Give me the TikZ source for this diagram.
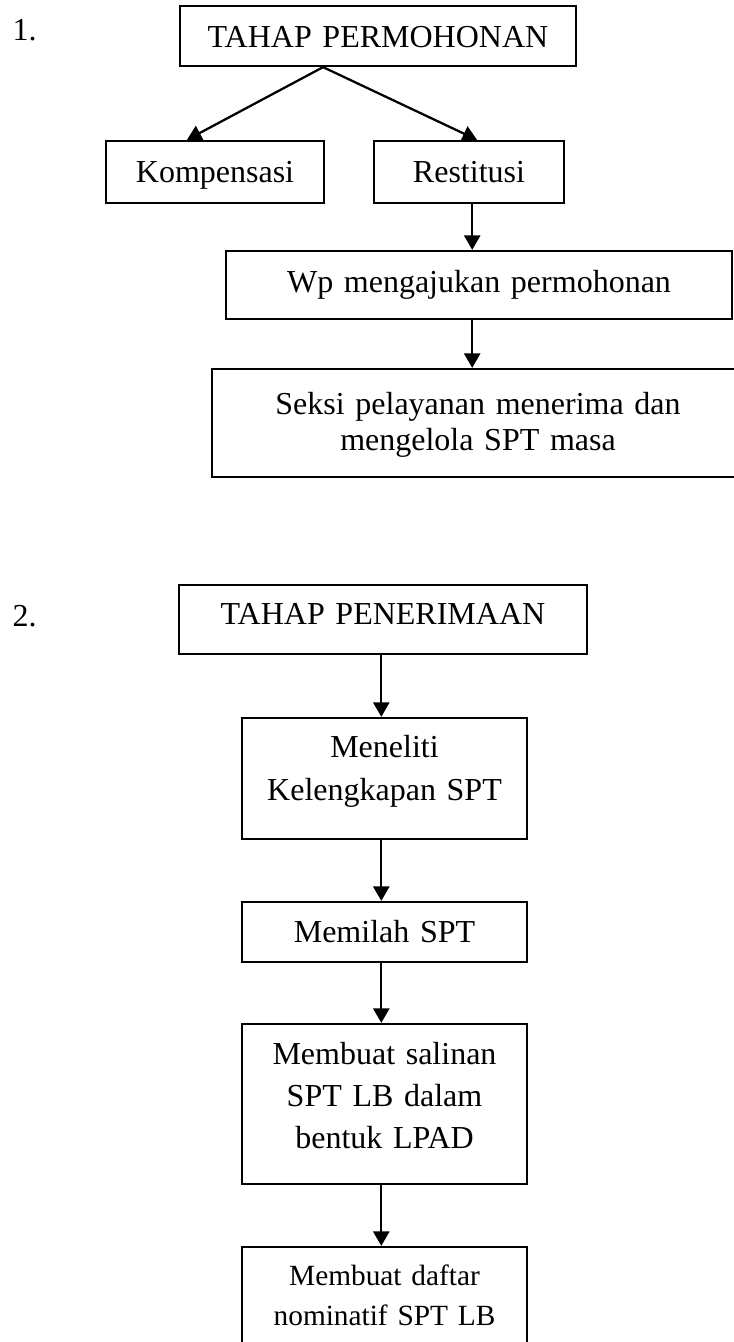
\documentclass[tikz,border=0pt]{standalone}
\usepackage{fontspec}
\setmainfont{Liberation Serif}
\usetikzlibrary{arrows.meta}

\begin{document}
\begin{tikzpicture}[
  x=0.375pt, y=-0.375pt,
  font=\fontsize{12pt}{13.8pt}\selectfont,
  box/.style={draw, line width=0.85pt, inner sep=0pt, align=center, text height=15.4pt},
  loose/.style={font=\fontsize{12pt}{15.9pt}\selectfont, text height=15pt},
  arrow/.style={-{Triangle[width=6pt, length=5.4pt]}, line width=0.85pt}
]
\clip (0,0) rectangle (734,1342);

% 1. tahap permohonan
\node[anchor=base west, inner sep=0pt] (num1) at (12,40) {1.};
\node[box, text width=148.5pt, text depth=7.1pt] (perm) at (378,36) {TAHAP PERMOHONAN};
\node[box, text width=81.75pt, text depth=7.9pt] (komp) at (215,172) {Kompensasi};
\node[box, text width=71.25pt, text depth=7.9pt] (rest) at (469,172) {Restitusi};
\node[box, text width=189.75pt, text depth=10.1pt] (wp) at (479,285) {Wp mengajukan permohonan};
\node[box, text width=199.5pt, text height=16.9pt, text depth=23.6pt] (seksi) at (478,423) {Seksi pelayanan menerima dan\\mengelola SPT masa};

\coordinate (split) at ([xshift=-20.6pt]perm.south);
\draw[arrow] (split) -- ([xshift=-10.5pt]komp.north);
\draw[arrow] (split) -- ([xshift=3pt]rest.north);
\draw[arrow] ([xshift=1.2pt]rest.south) -- ([xshift=1.2pt]rest.south |- wp.north);
\draw[arrow] ([xshift=1.2pt]rest.south |- wp.south) -- ([xshift=1.2pt]rest.south |- seksi.north);

% 2. tahap penerimaan
\node[anchor=base west, inner sep=0pt] (num2) at (12,626) {2.};
\node[box, loose, text width=153pt, text depth=10.9pt] (pener) at (383,619.5) {TAHAP PENERIMAAN};
\node[box, loose, text width=106.9pt, text depth=30.4pt] (teliti) at (384.5,778.5) {Meneliti\\Kelengkapan SPT};
\node[box, loose, text width=106.9pt, text depth=7.5pt] (pilah) at (384.5,932) {Memilah SPT};
\node[box, loose, text width=106.9pt, text depth=45pt] (salin) at (384.5,1104) {Membuat salinan\\SPT LB dalam\\bentuk LPAD};
\node[box, font=\fontsize{11pt}{15pt}\selectfont, text width=106.9pt, text height=14.25pt, text depth=34.5pt] (daftar) at (384.5,1312) {Membuat daftar\\nominatif SPT LB};

\draw[arrow] ([xshift=-1.2pt]teliti.north |- pener.south) -- ([xshift=-1.2pt]teliti.north);
\draw[arrow] ([xshift=-1.2pt]teliti.south) -- ([xshift=-1.2pt]pilah.north);
\draw[arrow] ([xshift=-1.2pt]pilah.south) -- ([xshift=-1.2pt]salin.north);
\draw[arrow] ([xshift=-1.2pt]salin.south) -- ([xshift=-1.2pt]daftar.north);

\end{tikzpicture}
\end{document}
